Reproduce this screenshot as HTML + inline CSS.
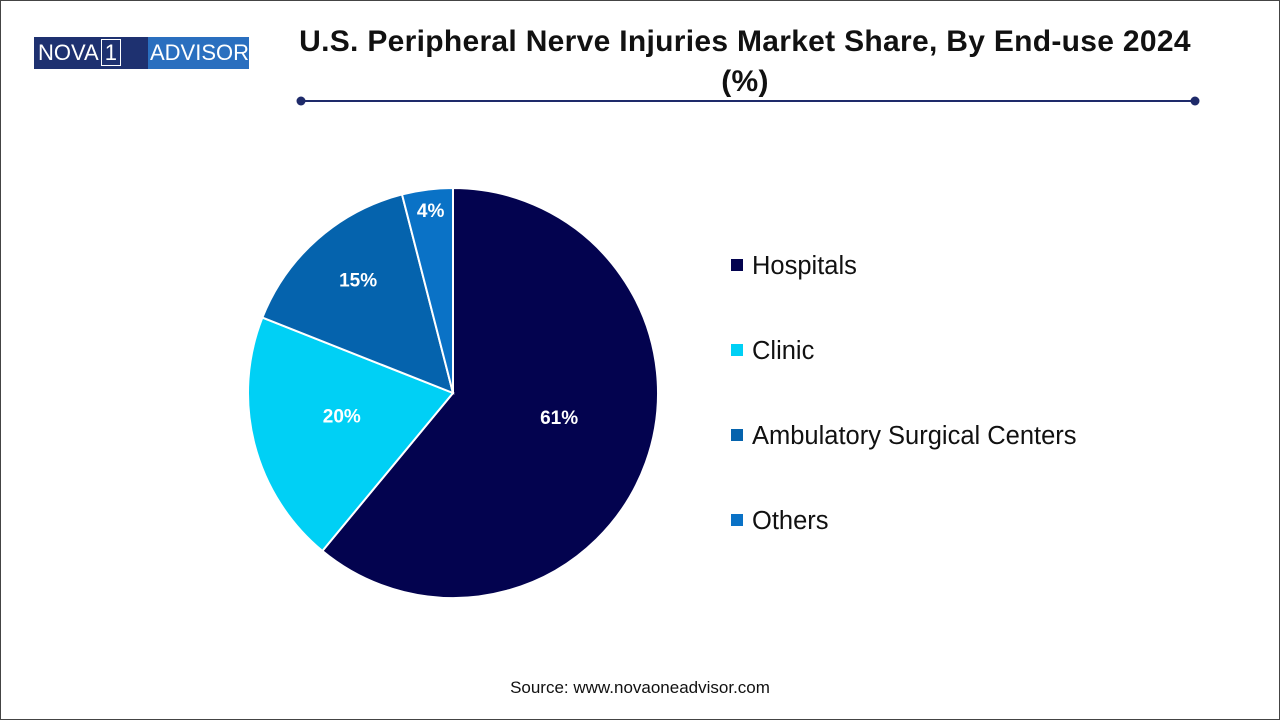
<!DOCTYPE html>
<html><head><meta charset="utf-8"><style>
body{margin:0;width:1280px;height:720px;background:#fff;font-family:"Liberation Sans",sans-serif;position:relative;overflow:hidden}
.frame{position:absolute;left:0;top:0;width:1278px;height:718px;border:1px solid #444}
.logo{position:absolute;left:34px;top:37px;width:215px;height:32px;display:flex;font-size:22px;color:#fff;line-height:32px}
.title{position:absolute;left:240px;width:1010px;top:22px;text-align:center;font-weight:bold;font-size:30px;line-height:40px;color:#111;letter-spacing:0.3px}
.src{position:absolute;top:678px;width:1280px;text-align:center;font-size:17px;color:#111}
</style></head><body>
<div class="frame"></div>
<div class="logo"><div style="background:#1e3170;padding-left:4px;width:120px">NOVA<span style="border:1.5px solid #fff;padding:0 3px;margin-left:2px;line-height:24px">1</span></div><div style="background:#2a6fbf;flex:1;padding-left:2px">ADVISOR</div></div>
<div class="title">U.S. Peripheral Nerve Injuries Market Share, By End-use 2024<br>(%)</div>
<svg width="1280" height="720" style="position:absolute;left:0;top:0" id="chart">
<line x1="301" y1="101" x2="1195" y2="101" stroke="#1e2a6a" stroke-width="2"/>
<circle cx="301" cy="101" r="4.5" fill="#1e2a6a"/>
<circle cx="1195" cy="101" r="4.5" fill="#1e2a6a"/>
<g id="pie"></g><g id="legend"></g>
</svg>
<div class="src">Source: www.novaoneadvisor.com</div>
<script>
const categories=["Hospitals","Clinic","Ambulatory Surgical Centers","Others"];
const values=[61,20,15,4];
const colors=["#03034f","#00d0f5","#0563ad","#0a72c6"];
const ns="http://www.w3.org/2000/svg";
const cx=453,cy=393,r=205;
const total=values.reduce((a,b)=>a+b,0);
const pie=document.getElementById('pie'),leg=document.getElementById('legend');
let a0=0;
function pt(a,rr){return [cx+rr*Math.sin(a),cy-rr*Math.cos(a)];}
values.forEach((v,i)=>{
 const a1=a0+v/total*2*Math.PI;
 const p0=pt(a0,r),p1=pt(a1,r);
 const path=document.createElementNS(ns,'path');
 path.setAttribute('d',`M${cx},${cy}L${p0[0]},${p0[1]}A${r},${r} 0 ${a1-a0>Math.PI?1:0} 1 ${p1[0]},${p1[1]}Z`);
 path.setAttribute('fill',colors[i]);path.setAttribute('stroke','#fff');path.setAttribute('stroke-width','2');
 
 
 pie.appendChild(path);
 const lr=v<10?0.87*r:(v>50?0.55*r:(v<18?0.7*r:0.56*r));
 const lp=pt((a0+a1)/2,lr);
 const t=document.createElementNS(ns,'text');
 t.setAttribute('x',lp[0]);t.setAttribute('y',lp[1]+(v>50?-7:1));t.setAttribute('text-anchor','middle');
 t.setAttribute('fill','#fff');t.setAttribute('font-weight','bold');t.setAttribute('font-size','19');
 t.textContent=v+'%';
 
 
 pie.appendChild(t);
 a0=a1;
 const y=265+i*85;
 const s=document.createElementNS(ns,'rect');
 s.setAttribute('x',731);s.setAttribute('y',y-6);s.setAttribute('width',12);s.setAttribute('height',12);s.setAttribute('fill',colors[i]);
 
 
 leg.appendChild(s);
 const lt=document.createElementNS(ns,'text');
 lt.setAttribute('x',752);lt.setAttribute('y',y+9);lt.setAttribute('font-size','25.5');lt.setAttribute('fill','#111');
 lt.textContent=categories[i];
 
 
 leg.appendChild(lt);
});
</script>
</body></html>
